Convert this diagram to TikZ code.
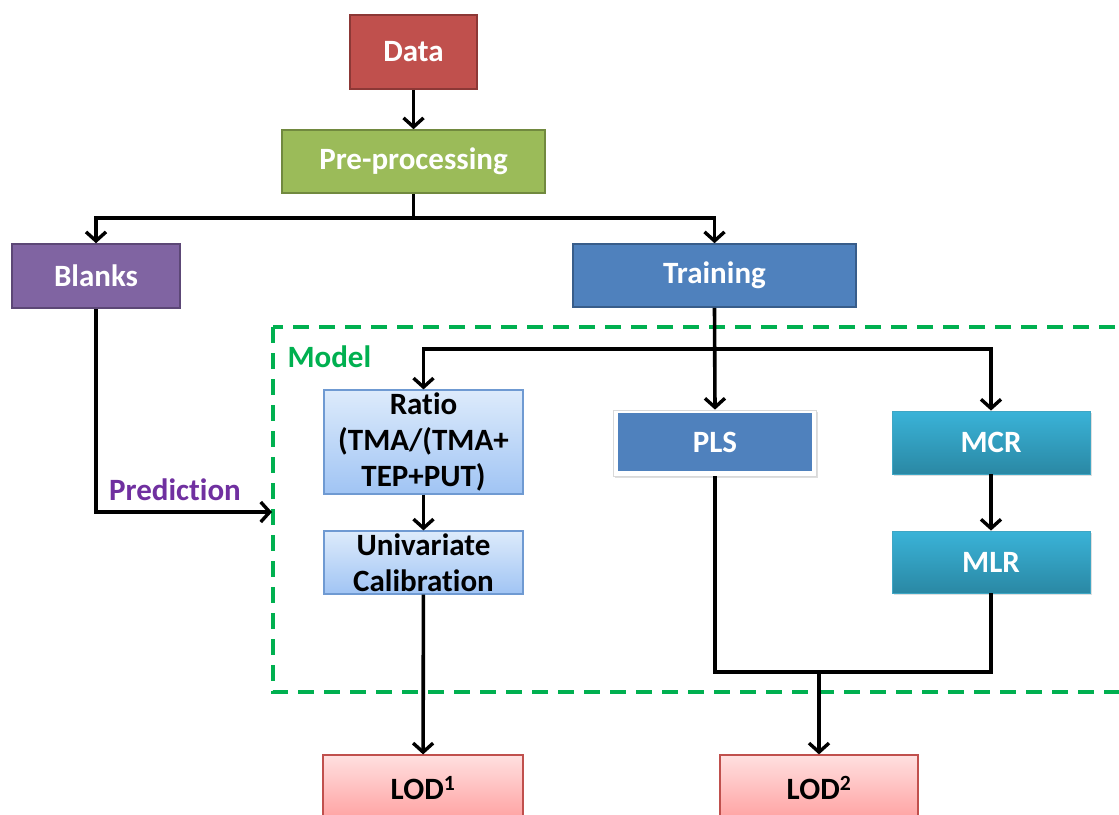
\documentclass[tikz,border=0pt]{standalone}
\usepackage{fontspec}
\setmainfont{Carlito}[Ligatures=NoCommon]
\usetikzlibrary{arrows.meta,shadows}

\definecolor{datared}{HTML}{C0504D}
\definecolor{datareddk}{HTML}{8C3836}
\definecolor{pregreen}{HTML}{9BBB59}
\definecolor{pregreendk}{HTML}{71893F}
\definecolor{blankpurple}{HTML}{8064A2}
\definecolor{blankpurpledk}{HTML}{5C4776}
\definecolor{trainblue}{HTML}{4F81BD}
\definecolor{trainbluedk}{HTML}{385D8A}
\definecolor{ratiotop}{HTML}{DDEBFB}
\definecolor{ratiobot}{HTML}{A0C4F4}
\definecolor{ratioedge}{HTML}{6F9AD2}
\definecolor{tealtop}{HTML}{3AB3D8}
\definecolor{tealbot}{HTML}{2A88A4}
\definecolor{tealedge}{HTML}{3FA6C4}
\definecolor{lodtop}{HTML}{FFE0E0}
\definecolor{lodbot}{HTML}{FFA0A0}
\definecolor{lodedge}{HTML}{C0504D}
\definecolor{modelgreen}{HTML}{00B050}
\definecolor{predpurple}{HTML}{7030A0}

\tikzset{
  txt/.style={font=\fontsize{31}{36}\selectfont\bfseries},
  box/.style={txt, rectangle, inner sep=0pt, align=center, line width=1.6pt},
  darkbox/.style={box, text=white},
  lightbox/.style={box, text=black, line width=1.2pt},
  ln/.style={line width=3.6pt, line join=miter},
  arr/.style={ln, -{Straight Barb[length=9pt,width=20pt,line width=3.4pt]}},
  soft/.style={drop shadow={opacity=0.25, shadow xshift=1.5pt, shadow yshift=-2pt}}
}

\begin{document}
\begin{tikzpicture}[x=1pt,y=-1pt]
\useasboundingbox (0,0) rectangle (1119,814);
\fill[white] (0,0) rectangle (1119,814);

% model frame
\draw[modelgreen, line width=3.6pt, dash pattern=on 16pt off 10pt]
  (273,327) rectangle (1135,692);
\node[txt, text=modelgreen, anchor=west] (modellbl) at (284,357) {Model};

% top level
\node[darkbox, fill=datared, draw=datareddk, minimum width=127pt, minimum height=74pt] (data) at (413.5,52) {Data};
\node[darkbox, fill=pregreen, draw=pregreendk, minimum width=263pt, minimum height=63pt] (pre) at (413.5,161.5) {Pre-processing};
\node[darkbox, fill=blankpurple, draw=blankpurpledk, minimum width=168pt, minimum height=64pt] (blanks) at (96,276) {Blanks};
\node[darkbox, fill=trainblue, draw=trainbluedk, minimum width=283pt, minimum height=63pt] (train) at (714.5,275.5) {Training};

% model branches
\node[lightbox, top color=ratiotop, bottom color=ratiobot, draw=ratioedge, minimum width=199pt, minimum height=104pt] (ratio) at (423.5,442) {Ratio\\(TMA/(TMA+\\TEP+PUT)};
\node[lightbox, top color=ratiotop, bottom color=ratiobot, draw=ratioedge, minimum width=199pt, minimum height=63pt] (uni) at (423.5,562.5) {Univariate\\Calibration};
\node[box, fill=white, draw=white!85!black, line width=0.8pt, soft, minimum width=203pt, minimum height=66pt] (pls) at (715,443) {};
\node[darkbox, fill=trainblue, minimum width=194pt, minimum height=58pt] (plsin) at (715,442) {PLS};
\node[darkbox, top color=tealtop, bottom color=tealbot, draw=tealedge, line width=0.8pt, soft, minimum width=198pt, minimum height=63pt] (mcr) at (991,442.5) {MCR};
\node[darkbox, top color=tealtop, bottom color=tealbot, draw=tealedge, line width=0.8pt, soft, minimum width=198pt, minimum height=62pt] (mlr) at (991,562) {MLR};

% results
\node[lightbox, top color=lodtop, bottom color=lodbot, draw=lodedge, minimum width=200pt, minimum height=66pt] (lod1) at (423,788) {LOD\textsuperscript{1}};
\node[lightbox, top color=lodtop, bottom color=lodbot, draw=lodedge, minimum width=198pt, minimum height=66pt] (lod2) at (819,788) {LOD\textsuperscript{2}};

% routing points
\coordinate (split) at (413.5,218);
\coordinate (mbar) at (715,349);
\coordinate (predin) at (272,512);
\coordinate (join) at (819,672);

% connectors
\draw[arr] (data) -- (pre);
\draw[ln] (pre.south) -- (split);
\draw[arr] (split) -| (blanks.north);
\draw[arr] (split) -| (train.north);
\draw[arr] (blanks.south) |- (predin);
\node[txt, text=predpurple] (predlbl) at (175,490) {Prediction};
\draw[arr] (train.south) -- (pls.north);
\draw[arr] (mbar) -| (ratio.north);
\draw[arr] (mbar) -| (mcr.north);
\draw[arr] (ratio) -- (uni);
\draw[arr] (uni) -- (lod1);
\draw[arr] (mcr) -- (mlr);
\draw[ln] (pls.south) |- (join);
\draw[ln] (mlr.south) |- (join);
\draw[arr] (join) -- (lod2.north);
\end{tikzpicture}
\end{document}
